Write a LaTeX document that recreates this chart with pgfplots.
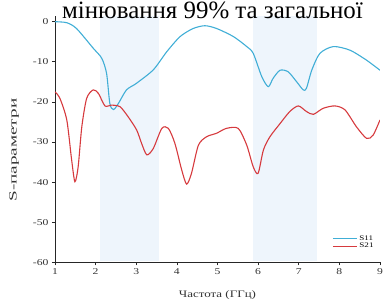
\documentclass[border=0pt]{standalone}
\usepackage{fontspec}
\setmainfont{Liberation Serif}
\newfontfamily\chartfont{Liberation Serif}[FakeStretch=1.3]
\newfontfamily\ylabfont{Liberation Serif}[FakeStretch=1.75]
\usepackage{pgfplots}
\pgfplotsset{compat=1.18}
\definecolor{sblue}{RGB}{64,174,214}
\definecolor{sred}{RGB}{214,58,62}
\definecolor{band}{RGB}{238,245,252}
\begin{document}
\begin{tikzpicture}
\begin{axis}[
  at={(0,0)}, anchor=south west,
  scale only axis, width=325bp, height=246.6bp,
  xmin=1, xmax=9, ymin=-60, ymax=1.5,
  axis lines=left, axis line style={-, line width=0.9bp, black!85},
  xtick={1,...,9}, ytick={-60,-50,...,0},
  tick align=outside, major tick length=3bp,
  tick style={line width=0.7bp, black!85},
  /pgf/number format/assume math mode=true,
  tick label style={font=\chartfont\fontsize{9}{10}\selectfont, text=black!80},
  xlabel={Частота (ГГц)}, ylabel={S-параметри},
  xlabel style={font=\chartfont\fontsize{10}{11}\selectfont, text=black!80, at={(axis description cs:0.5,0)}, anchor=center, yshift=-33bp},
  ylabel style={font=\ylabfont\fontsize{11}{12}\selectfont, text=black!80, at={(axis description cs:-0.126,0.455)}, anchor=center},
  legend style={draw=none, fill=none, at={(axis description cs:0.99,0.04)}, anchor=south east,
    font=\chartfont\fontsize{7}{7.5}\selectfont, row sep=-2.5bp, inner sep=1bp},
  legend cell align=left,
  legend image code/.code={\draw[#1] (0bp,0bp) -- (24bp,0bp);},
  every axis plot/.append style={line width=1.1bp, smooth, tension=0.45},
]
\fill[band] (axis cs:2.1,-59.8) rectangle (axis cs:3.55,1.5);
\fill[band] (axis cs:5.88,-59.8) rectangle (axis cs:7.45,1.5);
\addplot[sblue] coordinates {
(1,0) (1.29,-0.25) (1.53,-1.7) (1.94,-6.6) (2.15,-9.1) (2.27,-12.9) (2.35,-20.4)
(2.44,-21.9) (2.56,-20.4) (2.76,-17) (3.0,-15.4) (3.42,-12) (3.75,-7.5) (4.08,-3.7)
(4.40,-1.7) (4.69,-1.0) (4.98,-1.7) (5.39,-3.7) (5.72,-6.2) (5.88,-7.9) (6.09,-13.7)
(6.25,-16.2) (6.37,-14.1) (6.54,-12.1) (6.74,-12.5) (6.95,-15) (7.11,-17) (7.19,-16.6)
(7.32,-12.1) (7.52,-7.9) (7.85,-6.2) (8.26,-7.1) (8.67,-9.6) (9.0,-12.1)
};
\addlegendentry{S11}
\addplot[sred] coordinates {
(1,-17.5) (1.12,-19.1) (1.29,-24.5) (1.41,-34.5) (1.49,-39.9) (1.57,-36.2) (1.66,-26.2)
(1.78,-19.1) (1.94,-17) (2.07,-17.9) (2.23,-21) (2.39,-20.8) (2.60,-21.2) (2.80,-23.7)
(3.01,-27) (3.13,-30.3) (3.26,-33.2) (3.42,-31.6) (3.63,-26.6) (3.79,-26.6) (3.95,-30.3)
(4.12,-37) (4.24,-40.5) (4.36,-37.8) (4.53,-30.8) (4.73,-28.7) (4.98,-27.8) (5.22,-26.6)
(5.51,-26.6) (5.72,-30.8) (5.88,-36.2) (6.0,-37.8) (6.13,-32) (6.29,-28.7) (6.54,-25.4)
(6.78,-22.4) (6.99,-21) (7.19,-22.4) (7.36,-23.1) (7.60,-21.6) (7.89,-21) (8.14,-22)
(8.42,-26.2) (8.67,-29.1) (8.83,-28.3) (9.0,-24.5)
};
\addlegendentry{S21}
\end{axis}
\node[anchor=base west, font=\fontsize{25}{27}\selectfont, inner sep=0pt] at (7bp,243.6bp) {мінювання 99\% та загальної};
\pgfresetboundingbox
\useasboundingbox (-55bp,-42.7bp) rectangle (330bp,262.3bp);
\end{tikzpicture}
\end{document}
